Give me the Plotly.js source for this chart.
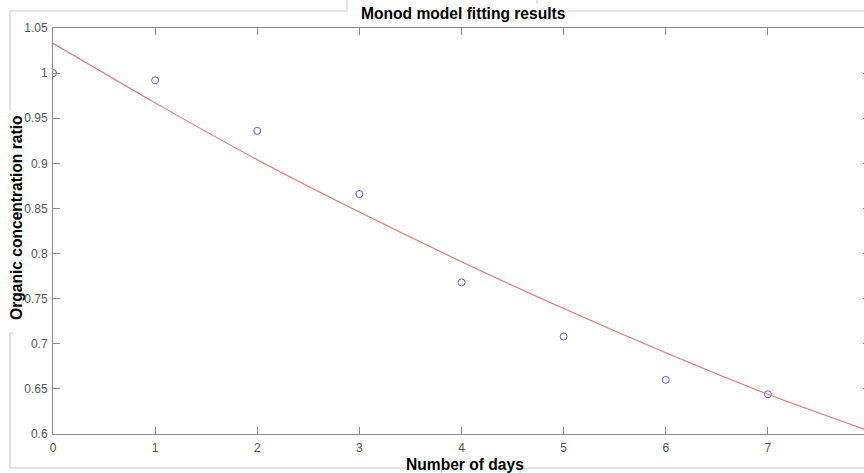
<!DOCTYPE html>
<html>
<head>
<meta charset="utf-8">
<script src="https://cdn.plot.ly/plotly-3.0.1.min.js"></script>
<style>
html,body{margin:0;padding:0;overflow:hidden;background:#fff;width:864px;height:473px;}
#chart{width:880px;height:473px;}
</style>
</head>
<body>
<div id="chart"></div>
<script>
// ---- data ----
const days = [0, 1, 2, 3, 4, 5, 6, 7];
const observedRatio = [1.000, 0.992, 0.936, 0.866, 0.768, 0.708, 0.660, 0.644];
const fitDays = [0, 1, 2, 3, 4, 5, 6, 7, 8];
const fitRatio = [1.033, 0.967, 0.904, 0.846, 0.791, 0.739, 0.690, 0.644, 0.603];
const xTickVals = [0, 1, 2, 3, 4, 5, 6, 7];
const yTickVals = [0.6, 0.65, 0.7, 0.75, 0.8, 0.85, 0.9, 0.95, 1.0, 1.05];
const yTickText = ['0.6', '0.65', '0.7', '0.75', '0.8', '0.85', '0.9', '0.95', '1', '1.05'];

// ---- layout geometry ----
const FW = 880, FH = 473;
const M = {l: 53, r: 10, t: 28, b: 39};
const PW = FW - M.l - M.r, PH = FH - M.t - M.b;
const px = x => (x - M.l) / PW;
const py = y => (FH - M.b - y) / PH;
const frameColor = '#c9c9c9';
function seg(x0, y0, x1, y1) {
  return {type: 'line', xref: 'paper', yref: 'paper', x0: px(x0), y0: py(y0), x1: px(x1), y1: py(y1),
          line: {color: frameColor, width: 1}};
}
const shapes = [
  seg(10, 11, 347, 11), seg(537, 11, 864, 11),
  seg(347, 0, 347, 11), seg(537, 0, 537, 11),
  seg(10, 11, 10, 110), seg(10, 333, 10, 468), seg(10, 333, 13, 333),
  seg(10, 468, 405, 468), seg(523, 468, 864, 468),
  seg(441.5, 468, 441.5, 473), seg(520, 468, 520, 473)
];

const font = 'Liberation Sans, Arial, sans-serif';
const axisColor = '#8a8a8a';

const traces = [
  {x: days, y: observedRatio, type: 'scatter', mode: 'markers',
   marker: {symbol: 'circle-open', size: 7, color: '#5c5ce0', line: {width: 1, color: '#5c5ce0'}},
   hoverinfo: 'skip'},
  {x: fitDays, y: fitRatio, type: 'scatter', mode: 'lines',
   line: {color: '#ee7070', width: 1.1, shape: 'spline', smoothing: 0.8},
   hoverinfo: 'skip'}
];

const layout = {
  width: FW, height: FH,
  margin: M,
  paper_bgcolor: '#ffffff', plot_bgcolor: '#ffffff',
  showlegend: false,
  font: {family: font, size: 12, color: '#555555'},
  xaxis: {range: [0, 8], tickvals: xTickVals, ticks: 'inside', ticklen: 7, tickcolor: axisColor,
          showline: true, linecolor: axisColor, linewidth: 1, mirror: 'ticks', ticklabelstandoff: 3,
          showgrid: false, zeroline: false, tickfont: {size: 12, color: '#555555'}},
  yaxis: {range: [0.6, 1.05], tickvals: yTickVals, ticktext: yTickText, ticks: 'inside', ticklen: 7,
          tickcolor: axisColor, showline: true, linecolor: axisColor, linewidth: 1, mirror: 'ticks',
          ticklabelstandoff: 2,
          showgrid: false, zeroline: false, tickfont: {size: 12, color: '#555555'}},
  shapes: shapes,
  annotations: [
    {text: '<b>Monod model fitting results</b>', xref: 'paper', yref: 'paper',
     x: px(463), y: py(14), xanchor: 'center', yanchor: 'middle', showarrow: false,
     bgcolor: '#ffffff', font: {family: font, size: 15.6, color: '#000000'}},
    {text: '<b>Number of days</b>', xref: 'paper', yref: 'paper',
     x: px(465), y: py(464), xanchor: 'center', yanchor: 'middle', showarrow: false,
     font: {family: font, size: 15.6, color: '#000000'}},
    {text: '<b>Organic concentration ratio</b>', xref: 'paper', yref: 'paper',
     x: px(16), y: py(218), xanchor: 'center', yanchor: 'middle', showarrow: false, textangle: -90,
     font: {family: font, size: 15.6, color: '#000000'}}
  ]
};

Plotly.newPlot('chart', traces, layout, {staticPlot: true, displayModeBar: false});
</script>
</body>
</html>
